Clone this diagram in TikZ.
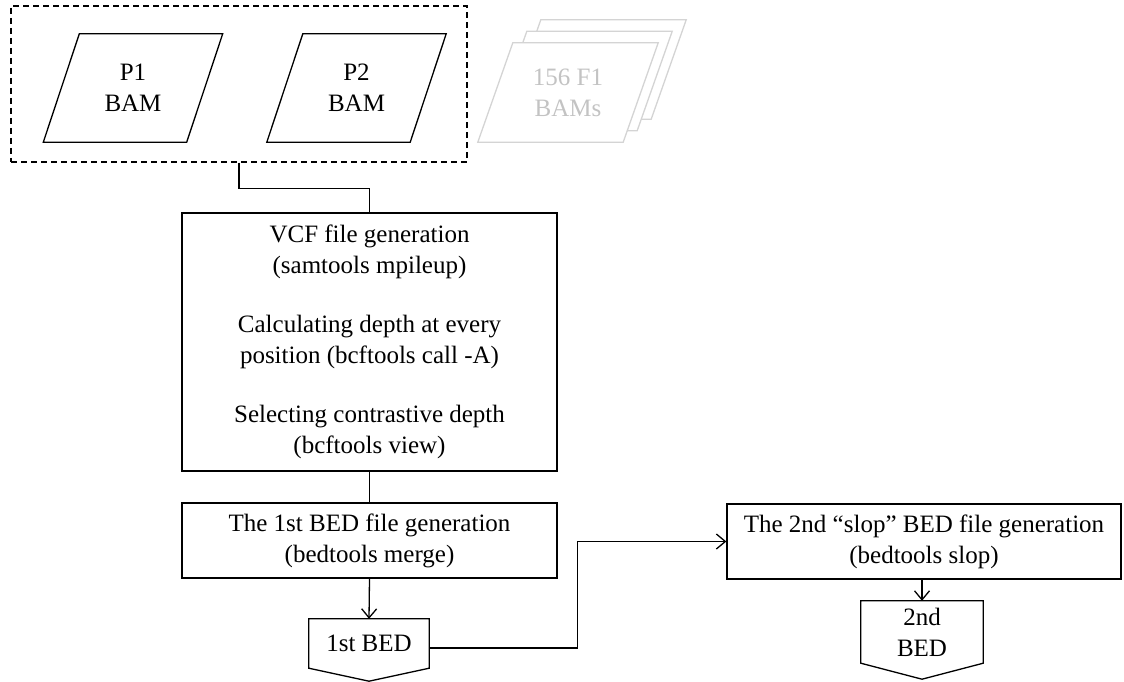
\documentclass[tikz,border=0pt]{standalone}
\usepackage{fontspec}
\setmainfont{Liberation Serif}
\usetikzlibrary{arrows.meta,calc}
\definecolor{lightln}{RGB}{212,212,212}
\definecolor{lighttx}{RGB}{195,195,195}
\begin{document}
\begin{tikzpicture}[x=1pt,y=-1pt,
  every node/.style={font=\fontsize{25}{31}\selectfont, align=center, inner sep=0pt},
  ln/.style={line width=1.3pt},
  boxnode/.style={draw, line width=1.3pt, rectangle},
  arr/.style={line width=1.3pt, -{Straight Barb[length=9pt,width=15pt]}},
  groupbox/.style={draw, line width=1.2pt, dash pattern=on 6pt off 4pt},
  ghost/.style={line width=1.3pt, draw=lightln, fill=white}
]
\useasboundingbox (0,0) rectangle (1124,682);

% group of parent BAMs
\node[groupbox, minimum width=456pt, minimum height=156pt] (inputs) at (239,84) {};
\node[minimum width=143pt, minimum height=108pt] (p1) at (133,88) {P1\\BAM};
\node[minimum width=143pt, minimum height=108pt] (p2) at (356.5,88) {P2\\BAM};
\draw[ln] ($(p1.north west)+(18,0)$) -- ($(p1.north east)+(18,0)$) -- ($(p1.south east)+(-18,0)$) -- ($(p1.south west)+(-18,0)$) -- cycle;
\draw[ln] ($(p2.north west)+(18,0)$) -- ($(p2.north east)+(18,0)$) -- ($(p2.south east)+(-18,0)$) -- ($(p2.south west)+(-18,0)$) -- cycle;

% F1 stack
\node[minimum width=145pt, minimum height=99pt] (f1) at (568,92.5) {};
\draw[ghost] ($(f1.north west)+(45.5,-23)$) -- ($(f1.north east)+(45.5,-23)$) -- ($(f1.south east)+(10.5,-23)$) -- ($(f1.south west)+(10.5,-23)$) -- cycle;
\draw[ghost] ($(f1.north west)+(31.5,-11.5)$) -- ($(f1.north east)+(31.5,-11.5)$) -- ($(f1.south east)+(-3.5,-11.5)$) -- ($(f1.south west)+(-3.5,-11.5)$) -- cycle;
\draw[ghost] ($(f1.north west)+(17.5,0)$) -- ($(f1.north east)+(17.5,0)$) -- ($(f1.south east)+(-17.5,0)$) -- ($(f1.south west)+(-17.5,0)$) -- cycle;
\node[text=lighttx] (f1t) at (f1.center) {156 F1\\BAMs};

% processing boxes
\node[boxnode, minimum width=375pt, minimum height=258pt] (vcf) at (369.5,342)
  {VCF file generation\\(samtools mpileup)\\[28pt]Calculating depth at every\\position (bcftools call -A)\\[28pt]Selecting contrastive depth\\(bcftools view)};
\node[boxnode, minimum width=375pt, minimum height=75pt] (bed1box) at (369.5,540.5)
  {The 1st BED file generation\\(bedtools merge)};
\node[boxnode, minimum width=394pt, minimum height=75pt] (bed2box) at (924,541.5)
  {The 2nd “slop” BED file generation\\(bedtools slop)};

% output documents
\node[minimum width=120pt, minimum height=49pt] (bed1) at (369,643.5) {1st BED};
\draw[ln] (bed1.north west) -- (bed1.north east) -- (bed1.south east) -- ($(bed1.south)+(0,13)$) -- (bed1.south west) -- cycle;
\node[minimum width=122pt, minimum height=62pt] (bed2) at (922,632) {2nd\\BED};
\draw[ln] (bed2.north west) -- (bed2.north east) -- (bed2.south east) -- ($(bed2.south)+(0,16)$) -- (bed2.south west) -- cycle;

% connectors
\draw[ln] (inputs.south) -- ++(0,26) -| (vcf.north);
\draw[ln] (vcf.south) -- (bed1box.north);
\draw[arr] (bed1box.south) -- (bed1.north);
\draw[arr] ($(bed1.east)+(0,4.5)$) -- ++(148,0) |- (bed2box.west);
\draw[arr] (bed2box.south -| bed2.north) -- (bed2.north);
\end{tikzpicture}
\end{document}
